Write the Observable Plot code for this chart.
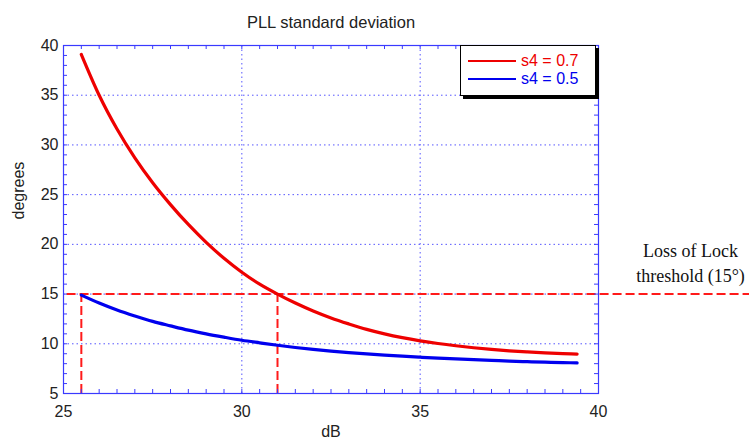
<!DOCTYPE html>
<html><head><meta charset="utf-8">
<script src="https://cdn.jsdelivr.net/npm/d3@7"></script>
<script src="https://cdn.jsdelivr.net/npm/@observablehq/plot@0.6"></script>
<style>
body{margin:0;background:#fff;}
#wrap{position:relative;width:749px;height:446px;}
#legend{position:absolute;left:460px;top:45px;width:134px;height:49px;border:1px solid #000;box-shadow:3px 3px 0 #000;background:#fff;font-family:"Liberation Sans",Arial,sans-serif;font-size:16px;}
.row{position:absolute;left:0;height:18px;display:flex;align-items:center;}
.row .ln{width:48px;height:2px;margin-left:7px;margin-right:5px;}
</style>
</head><body>
<div id="wrap"></div>
<script>
// ---- data ----
const dB = [25.5,26,26.5,27,27.5,28,28.5,29,29.5,30,30.5,31,31.5,32,32.5,33,33.5,34,34.5,35,35.5,36,36.5,37,37.5,38,38.5,39,39.4];
const sigmaS07 = [39.1,35.0,31.6,28.7,26.2,24.0,22.0,20.2,18.6,17.2,16.0,15.0,14.1,13.3,12.6,12.0,11.45,11.0,10.62,10.3,10.03,9.8,9.6,9.43,9.29,9.18,9.09,9.02,8.97];
const sigmaS05 = [14.9,14.1,13.4,12.8,12.25,11.8,11.37,11.0,10.67,10.36,10.1,9.85,9.63,9.44,9.27,9.12,8.98,8.86,8.75,8.65,8.56,8.48,8.4,8.33,8.26,8.2,8.15,8.11,8.08];
const seriesNames = ["s4 = 0.7", "s4 = 0.5"];
const seriesColors = ["#ee0000", "#0000ee"];
const lockThreshold = 15;
const crossingsDB = [25.5, 31.0];
const xTickLabels = [25, 30, 35, 40];
const yTickLabels = [5, 10, 15, 20, 25, 30, 35, 40];
const xGrid = [30, 35];
const yGrid = [10, 15, 20, 25, 30, 35];
const xMinor = d3.range(25, 40.001, 0.5);
const yMinor = d3.range(5, 40.001, 1);
const titleText = "PLL standard deviation";
const xLabel = "dB";
const yLabel = "degrees";
const annotText = "Loss of Lock\nthreshold (15°)";

const rows = [];
dB.forEach((x, i) => {
  rows.push({x, y: sigmaS07[i], s: seriesNames[0]});
  rows.push({x, y: sigmaS05[i], s: seriesNames[1]});
});

const axisBlue = "#3a3aff";
const gridBlue = "#5555ff";
const dashRed = "#ff1a1a";

const chart = Plot.plot({
  width: 749, height: 446,
  marginLeft: 63, marginRight: 151, marginTop: 45, marginBottom: 53,
  x: {domain: [25, 40], label: null},
  y: {domain: [5, 40], label: null},
  color: {domain: seriesNames, range: seriesColors},
  style: {fontFamily: "'Liberation Sans', Arial, sans-serif", fontSize: "16px", color: "#222", background: "#fff"},
  marks: [
    Plot.ruleX(xGrid, {stroke: gridBlue, strokeDasharray: "1.5,3", strokeWidth: 1}),
    Plot.ruleY(yGrid, {stroke: gridBlue, strokeDasharray: "1.5,3", strokeWidth: 1}),
    Plot.ruleY([lockThreshold], {x1: 25.1, x2: 44.4, stroke: dashRed, strokeWidth: 2, strokeDasharray: "9,4"}),
    Plot.ruleX(crossingsDB, {y1: 5, y2: lockThreshold, stroke: dashRed, strokeWidth: 2, strokeDasharray: "9,4"}),
    Plot.line(rows, {x: "x", y: "y", z: "s", stroke: "s", strokeWidth: 3.2, curve: "monotone-x"}),
    Plot.frame({stroke: axisBlue, strokeWidth: 1.2}),
    Plot.tickX(xMinor, {x: d => d, insetTop: 344, stroke: axisBlue}),
    Plot.tickX(xMinor, {x: d => d, insetBottom: 344, stroke: axisBlue}),
    Plot.tickY(yMinor, {y: d => d, insetRight: 531, stroke: axisBlue}),
    Plot.tickY(yMinor, {y: d => d, insetLeft: 531, stroke: axisBlue}),
    Plot.axisX({ticks: xTickLabels, tickSize: 0, tickPadding: 12, fontSize: 16}),
    Plot.axisY({ticks: yTickLabels, tickSize: 0, tickPadding: 5, fontSize: 16}),
    Plot.text([titleText], {frameAnchor: "top", dy: -29, fontSize: 16.5, fill: "#222"}),
    Plot.text([xLabel], {frameAnchor: "bottom", dy: 43, fontSize: 16, fill: "#222"}),
    Plot.text([yLabel], {frameAnchor: "left", dx: -45, rotate: -90, fontSize: 16, fill: "#222"}),
    Plot.text([annotText], {frameAnchor: "right", textAnchor: "middle", y: () => lockThreshold, dx: 92, dy: -33, fontFamily: "'Liberation Serif', 'Times New Roman', serif", fontSize: 18, lineHeight: 1.4, fill: "#111"})
  ]
});
const wrap = document.getElementById("wrap");
wrap.appendChild(chart);

const legend = document.createElement("div");
legend.id = "legend";
seriesNames.forEach((name, i) => {
  const r = document.createElement("div");
  r.className = "row";
  r.style.top = (6 + i * 18) + "px";
  r.innerHTML = `<span class="ln" style="background:${seriesColors[i]}"></span><span style="color:${seriesColors[i]}">${name}</span>`;
  legend.appendChild(r);
});
wrap.appendChild(legend);
</script>
</body></html>
